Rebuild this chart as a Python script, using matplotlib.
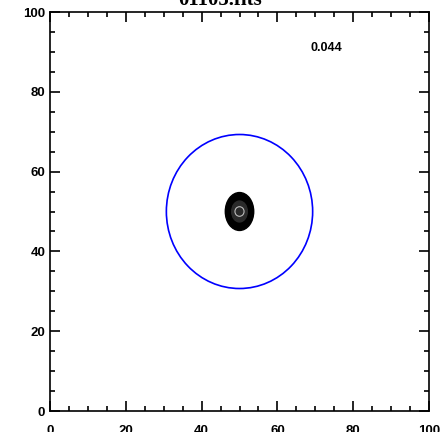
import matplotlib
matplotlib.use('Agg')
import matplotlib.pyplot as plt
from matplotlib.patches import Circle, Ellipse
from matplotlib.ticker import MultipleLocator

# Chart content
title = '01105.fits'
annotation = '0.044'
annot_xy = (73, 91)
aperture_center = (50, 50)
aperture_radius = 19.3
blob_center = (50, 50)
blob_width, blob_height = 7.5, 9.5
core_radius = 1.2
xticks = [0, 20, 40, 60, 80, 100]
yticks = [0, 20, 40, 60, 80, 100]

fig = plt.figure(figsize=(4.41, 4.32), dpi=100)
ax = fig.add_axes([0.1134, 0.0486, 0.8594, 0.9236])
ax.set_xlim(0, 100)
ax.set_ylim(0, 100)

# Source blob
ax.add_patch(Ellipse(blob_center, blob_width, blob_height, color='black', zorder=2))
ax.add_patch(Ellipse(blob_center, blob_width * 0.55, blob_height * 0.55,
                     color='#2a2a2a', zorder=3))
ax.add_patch(Circle(blob_center, core_radius, facecolor='none',
                    edgecolor='#bbbbbb', lw=0.8, zorder=4))

# Aperture circle
ax.add_patch(Circle(aperture_center, aperture_radius, facecolor='none',
                    edgecolor='#0000ff', lw=1.2, zorder=5))

ax.text(annot_xy[0], annot_xy[1], annotation, fontsize=9, fontweight='bold',
        ha='center', va='center', family='Liberation Sans')

ax.set_xticks(xticks)
ax.set_yticks(yticks)
ax.xaxis.set_minor_locator(MultipleLocator(5))
ax.yaxis.set_minor_locator(MultipleLocator(5))
ax.tick_params(which='both', direction='in', top=True, right=True,
               labeltop=False, labelright=False, width=1.2)
ax.tick_params(which='major', length=7, labelsize=9.5)
ax.tick_params(which='minor', length=3.5)
ax.tick_params(axis='x', which='major', pad=10)
ax.tick_params(axis='y', which='major', pad=3.5)
for lab in ax.get_xticklabels() + ax.get_yticklabels():
    lab.set_fontweight('bold')
    lab.set_family('Liberation Sans')
for s in ax.spines.values():
    s.set_linewidth(1.2)

# title sits partly above the top edge, as in the reference
fig.text(0.5, 0.988, title, ha='center', va='baseline', fontsize=15,
         fontweight='bold', family='Liberation Serif')

plt.savefig('out.png', dpi=100)
